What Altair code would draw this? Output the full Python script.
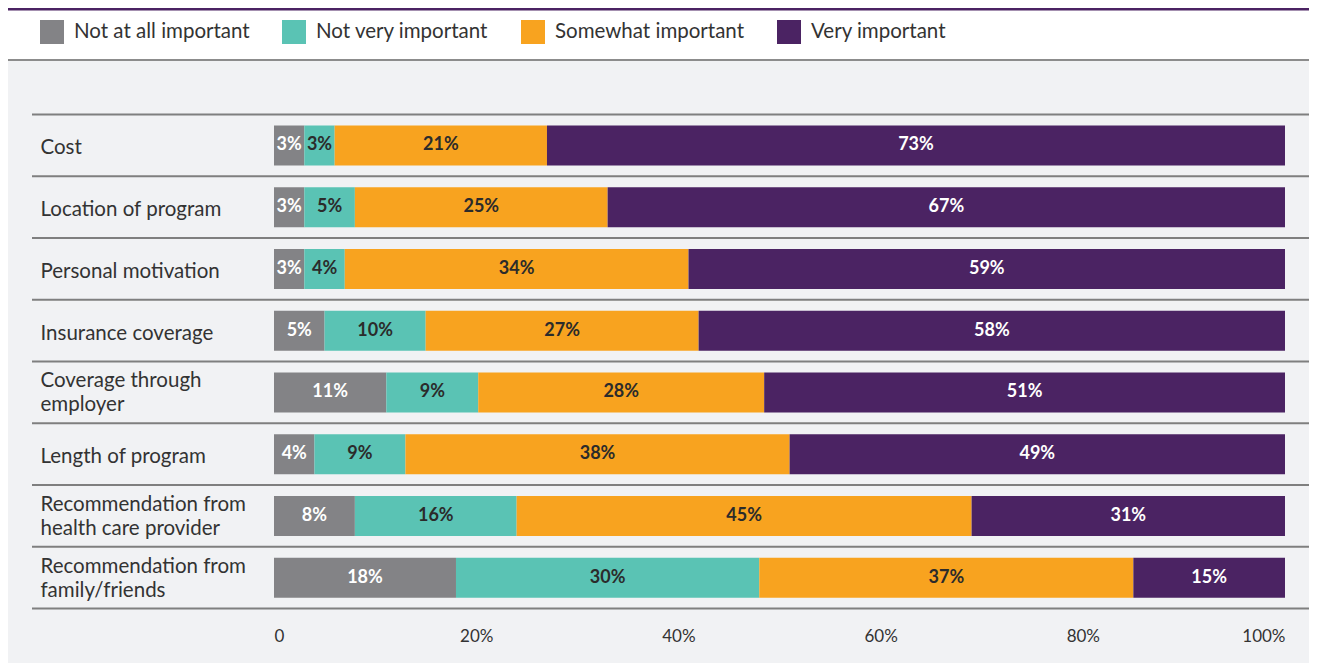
import altair as alt
import pandas as pd

items = ["Cost", "Location of program", "Personal motivation", "Insurance coverage",
         "Coverage through|employer", "Length of program",
         "Recommendation from|health care provider", "Recommendation from|family/friends"]
levels = ["Not at all important", "Not very important", "Somewhat important", "Very important"]
not_at_all = [3, 3, 3, 5, 11, 4, 8, 18]
not_very = [3, 5, 4, 10, 9, 9, 16, 30]
somewhat = [21, 25, 34, 27, 28, 38, 45, 37]
very = [73, 67, 59, 58, 51, 49, 31, 15]
colors = ["#838386", "#5ac3b4", "#f8a31f", "#4b2363"]
x_ticks = [0, 0.2, 0.4, 0.6, 0.8, 1.0]

rows = []
for s_idx, (lvl, vals) in enumerate(zip(levels, [not_at_all, not_very, somewhat, very])):
    for it, v in zip(items, vals):
        rows.append({"item": it, "level": lvl, "idx": s_idx, "pct": v})
df = pd.DataFrame(rows)

W, H = 1301, 655
FONT = "Lato"
TXT = "#333333"

xscale = alt.Scale(domain=[0, 1], range=[266, 1277], nice=False)
yscale = alt.Scale(domain=items, range=[106.5, 600.5], paddingInner=0, paddingOuter=0)

yaxis = alt.Axis(title=None, orient="left", offset=-32, labelAlign="left", labelPadding=0,
                 ticks=False, tickSize=0, domain=False, grid=False, zindex=2,
                 labelExpr="split(datum.label, '|')", labelFont=FONT, labelFontSize=20.5,
                 labelOffset={"condition": {"test": "indexof(datum.value, '|') >= 0", "value": -11},
                              "value": 3},
                 labelColor=TXT, labelLineHeight=24, labelLimit=400)
xaxis = alt.Axis(title=None, orient="bottom", offset=-35, values=x_ticks, zindex=2,
                 labelExpr="datum.value == 0 ? '0' : format(datum.value, '.0%')",
                 labelFlush=True, labelOverlap=False, ticks=False, tickSize=0, labelPadding=0,
                 domain=False, grid=False, labelFont=FONT, labelFontSize=17, labelColor=TXT)

dummy = alt.Chart(pd.DataFrame({"d": [0]}))
panel = dummy.mark_rect(color="#f1f2f4").encode(
    x=alt.value(0), x2=alt.value(W), y=alt.value(53), y2=alt.value(H))
topline = dummy.mark_rule(color="#4b2363", strokeWidth=3).encode(
    x=alt.value(0), x2=alt.value(W), y=alt.value(1))
legline = dummy.mark_rule(color="#8c8c8c", strokeWidth=2).encode(
    x=alt.value(0), x2=alt.value(W), y=alt.value(52))

items_df = pd.DataFrame({"item": items})
seps = alt.Chart(items_df).mark_rule(color="#7f7f7f", strokeWidth=1.8).encode(
    y=alt.Y("item:N", bandPosition=0, scale=yscale, axis=yaxis, sort=None),
    x=alt.value(24), x2=alt.value(W))
seps_bottom = alt.Chart(items_df.iloc[[-1]]).mark_rule(color="#7f7f7f", strokeWidth=1.8).encode(
    y=alt.Y("item:N", bandPosition=1, scale=yscale, axis=yaxis, sort=None),
    x=alt.value(24), x2=alt.value(W))

base = alt.Chart(df).transform_stack(
    stack="pct", groupby=["item"], as_=["v0", "v1"], offset="normalize",
    sort=[alt.SortField("idx", order="ascending")]
).transform_calculate(mid="(datum.v0 + datum.v1) / 2", label="datum.pct + '%'")

legend = alt.Legend(title=None, orient="none", legendX=32, legendY=12, direction="horizontal",
                    columns=4, symbolType="square", symbolSize=576, symbolStrokeWidth=0,
                    labelFont=FONT, labelFontSize=20.5, labelColor=TXT, labelOffset=10,
                    labelLimit=400, columnPadding=32, padding=0, symbolOpacity=1)

bars = base.mark_bar(height=40).encode(
    x=alt.X("v0:Q", scale=xscale, axis=xaxis),
    x2="v1:Q",
    y=alt.Y("item:N", scale=yscale, axis=yaxis, sort=None),
    color=alt.Color("level:N", scale=alt.Scale(domain=levels, range=colors), legend=legend),
)

text = base.mark_text(font=FONT, fontSize=18, fontWeight="bold").encode(
    x=alt.X("mid:Q", scale=xscale, axis=xaxis),
    y=alt.Y("item:N", scale=yscale, axis=yaxis, sort=None),
    text="label:N",
    color=alt.condition("datum.idx == 0 || datum.idx == 3", alt.value("white"), alt.value("#2b2b2b")),
)

chart = alt.layer(panel, topline, legline, seps, seps_bottom, bars, text).properties(
    width=W, height=H, autosize=alt.AutoSizeParams(type="none"), padding=0,
    background="white"
).configure_view(stroke=None)

chart.save("out.html", embed_options={"renderer": "svg", "actions": False})
